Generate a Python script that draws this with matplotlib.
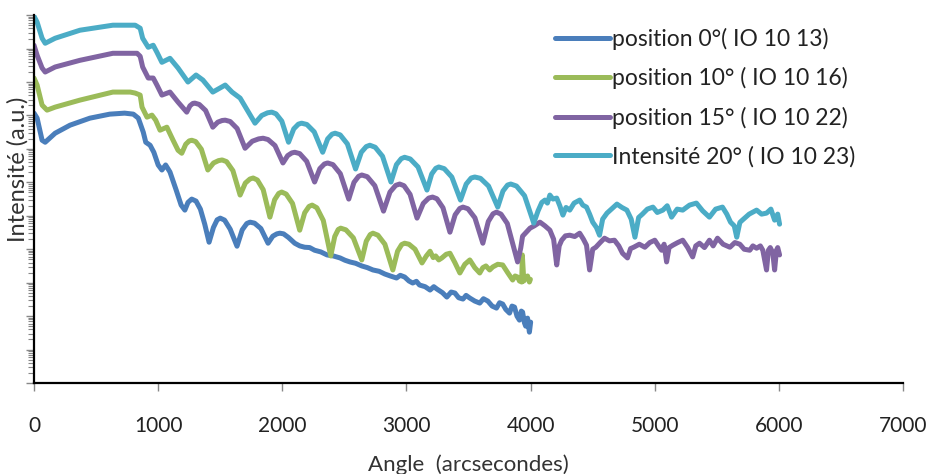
import matplotlib
matplotlib.use("Agg")
import matplotlib.pyplot as plt
from matplotlib.ticker import LogLocator, NullFormatter, MultipleLocator
import numpy as np

# angle (arcsec) and log10 of intensity drop (a.u.)
angle_0 = [0, 25, 65, 90, 170, 290, 450, 610, 730, 800, 840, 880, 900, 935, 965, 1000,
           1030, 1060, 1095, 1145, 1185, 1215, 1240, 1270, 1305, 1340, 1375, 1410, 1445,
           1475, 1500, 1535, 1580, 1635, 1677, 1714, 1740, 1776, 1827, 1885, 1923, 1956,
           1980, 2010, 2050, 2100, 2140, 2180, 2220, 2260, 2310, 2360, 2410, 2465, 2505,
           2545, 2590, 2640, 2685, 2730, 2780, 2825, 2870, 2920, 2950, 2985, 3020, 3050,
           3080, 3105, 3150, 3190, 3220, 3245, 3290, 3325, 3360, 3390, 3420, 3455, 3480,
           3510, 3550, 3590, 3620, 3655, 3690, 3725, 3750, 3775, 3800, 3830, 3850, 3870,
           3890, 3910, 3925, 3935, 3950, 3960, 3975, 3990, 4000]
logi_0 = [2.93, 3.08, 3.74, 3.80, 3.53, 3.29, 3.08, 2.96, 2.93, 2.96, 3.08, 3.50, 3.80,
          3.89, 4.10, 4.48, 4.63, 4.48, 4.69, 5.23, 5.68, 5.83, 5.60, 5.50, 5.56, 5.80,
          6.25, 6.79, 6.35, 6.12, 6.07, 6.13, 6.40, 6.91, 6.42, 6.23, 6.19, 6.22, 6.38,
          6.82, 6.61, 6.54, 6.52, 6.54, 6.65, 6.82, 6.90, 6.94, 6.95, 7.03, 7.08, 7.17,
          7.20, 7.26, 7.33, 7.38, 7.42, 7.50, 7.55, 7.62, 7.66, 7.74, 7.80, 7.86, 7.78,
          7.83, 7.95, 8.01, 7.96, 8.07, 8.12, 8.22, 8.12, 8.19, 8.30, 8.43, 8.28, 8.31,
          8.45, 8.49, 8.38, 8.46, 8.55, 8.61, 8.48, 8.55, 8.70, 8.76, 8.60, 8.64, 8.80,
          8.91, 8.70, 8.73, 9.00, 9.12, 8.85, 8.88, 9.20, 9.30, 9.06, 9.48, 9.18]

angle_10 = [0, 25, 65, 105, 170, 370, 635, 775, 815, 855, 870, 910, 950, 980, 1015, 1070,
            1120, 1160, 1190, 1222, 1250, 1270, 1302, 1348, 1400, 1446, 1486, 1515, 1551,
            1602, 1660, 1702, 1739, 1765, 1799, 1846, 1900, 1938, 1971, 1995, 2031, 2082,
            2140, 2180, 2215, 2240, 2278, 2330, 2390, 2422, 2450, 2470, 2512, 2572, 2640,
            2676, 2708, 2730, 2770, 2826, 2890, 2928, 2961, 2985, 3020, 3069, 3125, 3160,
            3190, 3215, 3235, 3260, 3285, 3320, 3350, 3390, 3430, 3470, 3510, 3550, 3590,
            3615, 3640, 3670, 3695, 3735, 3775, 3815, 3855, 3875, 3895, 3910, 3928, 3933,
            3945, 3960, 3975, 3990, 3998]
logi_10 = [1.88, 2.09, 2.69, 2.84, 2.75, 2.54, 2.30, 2.30, 2.33, 2.39, 2.75, 3.05, 2.99,
           3.14, 3.44, 3.35, 3.74, 4.04, 4.13, 3.86, 3.76, 3.74, 3.78, 4.01, 4.63, 4.42,
           4.35, 4.33, 4.38, 4.65, 5.38, 5.02, 4.90, 4.87, 4.93, 5.22, 6.04, 5.52, 5.33,
           5.29, 5.35, 5.63, 6.43, 5.91, 5.72, 5.68, 5.76, 6.14, 7.20, 6.62, 6.41, 6.37,
           6.42, 6.66, 7.32, 6.76, 6.56, 6.52, 6.58, 6.85, 7.62, 7.06, 6.86, 6.82, 6.85,
           7.00, 7.41, 7.20, 7.06, 7.25, 7.20, 7.32, 7.26, 7.15, 7.12, 7.40, 7.71, 7.45,
           7.32, 7.55, 7.71, 7.55, 7.50, 7.62, 7.53, 7.45, 7.47, 7.70, 7.92, 7.80, 7.83,
           7.95, 7.98, 7.17, 7.95, 7.85, 7.80, 7.98, 7.90]

angle_15 = [0, 25, 65, 90, 170, 370, 635, 830, 855, 875, 920, 960, 990, 1030, 1095, 1160,
            1230, 1256, 1279, 1295, 1331, 1382, 1440, 1480, 1515, 1540, 1580, 1636, 1700,
            1758, 1809, 1845, 1885, 1941, 2005, 2043, 2076, 2100, 2140, 2196, 2260, 2302,
            2339, 2365, 2408, 2467, 2535, 2577, 2614, 2640, 2684, 2745, 2815, 2867, 2913,
            2945, 2980, 3029, 3085, 3135, 3179, 3210, 3245, 3294, 3350, 3392, 3429, 3455,
            3495, 3551, 3615, 3659, 3697, 3725, 3761, 3812, 3870, 3895, 3920, 3935, 3995,
            4030, 4075, 4115, 4155, 4185, 4210, 4230, 4250, 4280, 4315, 4355, 4395, 4425,
            4450, 4475, 4500, 4525, 4560, 4595, 4635, 4675, 4710, 4740, 4780, 4805, 4830,
            4875, 4920, 4960, 5000, 5030, 5055, 5075, 5095, 5115, 5145, 5185, 5225, 5265,
            5305, 5330, 5360, 5400, 5440, 5470, 5505, 5550, 5605, 5645, 5685, 5720, 5765,
            5790, 5820, 5850, 5870, 5900, 5915, 5930, 5950, 5965, 5980, 5990, 6005]
logi_15 = [0.90, 1.20, 1.58, 1.70, 1.55, 1.35, 1.14, 1.14, 1.23, 1.55, 1.88, 1.88, 2.09,
           2.39, 2.30, 2.60, 2.90, 2.71, 2.64, 2.63, 2.67, 2.85, 3.35, 3.20, 3.15, 3.14,
           3.18, 3.39, 3.98, 3.77, 3.70, 3.68, 3.72, 3.90, 4.42, 4.20, 4.12, 4.10, 4.14,
           4.37, 4.99, 4.59, 4.45, 4.42, 4.47, 4.74, 5.50, 5.00, 4.82, 4.78, 4.83, 5.10,
           5.86, 5.29, 5.09, 5.05, 5.10, 5.36, 6.07, 5.63, 5.47, 5.44, 5.49, 5.76, 6.49,
           5.97, 5.78, 5.74, 5.79, 6.06, 6.82, 6.17, 5.94, 5.89, 5.95, 6.23, 7.03, 7.38,
           6.97, 6.61, 6.37, 6.30, 6.19, 6.30, 6.43, 6.70, 7.47, 6.90, 6.73, 6.60, 6.58,
           6.62, 6.52, 6.70, 6.88, 7.62, 7.00, 6.94, 6.80, 6.67, 6.75, 6.73, 6.90, 7.12,
           7.26, 6.98, 6.94, 6.85, 6.94, 6.80, 6.73, 6.90, 7.03, 6.85, 7.38, 6.95, 6.88,
           6.80, 6.73, 6.95, 7.23, 6.90, 6.82, 6.95, 6.73, 6.90, 6.67, 6.85, 6.94, 6.80,
           6.85, 7.00, 7.03, 6.90, 6.97, 6.90, 7.03, 7.62, 7.03, 6.95, 7.10, 7.62, 7.03,
           6.95, 7.17]

angle_20 = [0, 25, 65, 90, 170, 370, 635, 815, 855, 875, 920, 960, 990, 1030, 1095, 1160,
            1240, 1305, 1360, 1440, 1540, 1595, 1660, 1780, 1834, 1881, 1915, 1949, 1996,
            2050, 2092, 2129, 2155, 2198, 2257, 2325, 2365, 2400, 2425, 2466, 2524, 2590,
            2636, 2676, 2705, 2748, 2807, 2875, 2919, 2958, 2985, 3030, 3093, 3165, 3203,
            3236, 3260, 3304, 3365, 3435, 3481, 3521, 3550, 3596, 3661, 3735, 3777, 3814,
            3840, 3886, 3951, 4025, 4060, 4090, 4115, 4135, 4155, 4180, 4210, 4235, 4260,
            4285, 4315, 4350, 4395, 4420, 4450, 4475, 4500, 4530, 4555, 4580, 4615, 4650,
            4695, 4735, 4775, 4810, 4840, 4870, 4900, 4940, 4985, 5020, 5065, 5100, 5135,
            5180, 5225, 5280, 5335, 5385, 5440, 5490, 5545, 5580, 5610, 5640, 5660, 5685,
            5705, 5760, 5820, 5860, 5900, 5935, 5965, 5990, 6005]
logi_20 = [0.03, 0.21, 0.69, 0.84, 0.69, 0.45, 0.30, 0.30, 0.39, 0.69, 0.96, 0.90, 1.11,
           1.41, 1.29, 1.58, 2.00, 1.79, 1.94, 2.30, 2.09, 2.30, 2.48, 3.23, 3.00, 2.92,
           2.90, 2.95, 3.17, 3.80, 3.40, 3.26, 3.23, 3.27, 3.49, 4.10, 3.70, 3.56, 3.53,
           3.58, 3.85, 4.60, 4.10, 3.93, 3.89, 3.95, 4.22, 4.99, 4.47, 4.29, 4.25, 4.30,
           4.54, 5.23, 4.75, 4.58, 4.54, 4.59, 4.84, 5.53, 5.05, 4.87, 4.84, 4.88, 5.11,
           5.74, 5.26, 5.08, 5.05, 5.11, 5.40, 6.22, 5.85, 5.60, 5.53, 5.62, 5.38, 5.50,
           5.47, 5.70, 5.98, 5.75, 5.83, 5.62, 5.53, 5.68, 5.74, 5.95, 6.19, 6.35, 6.58,
           6.10, 5.92, 5.80, 5.65, 5.75, 5.83, 6.10, 6.64, 6.05, 5.95, 5.80, 5.74, 5.90,
           5.83, 5.70, 6.04, 5.80, 5.83, 5.68, 5.62, 5.85, 6.04, 5.80, 5.74, 5.95, 6.19,
           6.30, 6.64, 6.20, 6.13, 5.95, 5.83, 5.95, 5.92, 5.80, 6.13, 5.95, 6.25]

labels = ["position 0°( IO 10 13)", "position 10° ( IO 10 16)",
          "position 15° ( IO 10 22)", "Intensité 20° ( IO 10 23)"]
colors = ["#4a7ebb", "#9bbb59", "#8064a2", "#4bacc6"]

plt.rcParams["font.family"] = ["Lato", "DejaVu Sans"]

fig = plt.figure(figsize=(9.32, 4.74), dpi=100)
ax = fig.add_axes([0.0365, 0.192, 0.9325, 0.776])

series = [(angle_0, logi_0), (angle_10, logi_10), (angle_15, logi_15), (angle_20, logi_20)]
for (a, li), lab, c in zip(series, labels, colors):
    ax.plot(a, 10.0 ** (-np.array(li)), color=c, lw=3.6, label=lab,
            solid_joinstyle="round", solid_capstyle="round")

ax.set_yscale("log")
ax.set_ylim(1e-11, 1)
ax.set_xlim(0, 7000)
ax.xaxis.set_major_locator(MultipleLocator(1000))
ax.yaxis.set_major_locator(LogLocator(base=10, numticks=20))
ax.yaxis.set_minor_locator(LogLocator(base=10, subs=np.arange(2, 10), numticks=20))
ax.yaxis.set_major_formatter(NullFormatter())
ax.yaxis.set_minor_formatter(NullFormatter())

for s in ["top", "right"]:
    ax.spines[s].set_visible(False)
ax.spines["left"].set_linewidth(1.6)
ax.spines["bottom"].set_linewidth(1.6)
ax.tick_params(axis="x", direction="out", length=6, width=1, color="#888888",
               labelsize=15, labelcolor="#222222", pad=18)
ax.tick_params(axis="y", which="major", direction="out", length=6, width=1, color="#888888")
ax.tick_params(axis="y", which="minor", direction="out", length=4, width=0.8, color="#888888")

ax.set_xlabel("Angle  (arcsecondes)", fontsize=16, color="#333333", labelpad=13)
ax.set_ylabel("Intensité (a.u.)", fontsize=17, color="#333333")
ax.yaxis.set_label_coords(-0.006, 0.58)

ax.legend(loc="upper right", bbox_to_anchor=(0.955, 0.99), borderaxespad=0, frameon=False,
          fontsize=16.5, handlelength=2.4, handletextpad=0.05, labelspacing=0.75,
          labelcolor="#222222")

fig.savefig("out.png", dpi=100)
